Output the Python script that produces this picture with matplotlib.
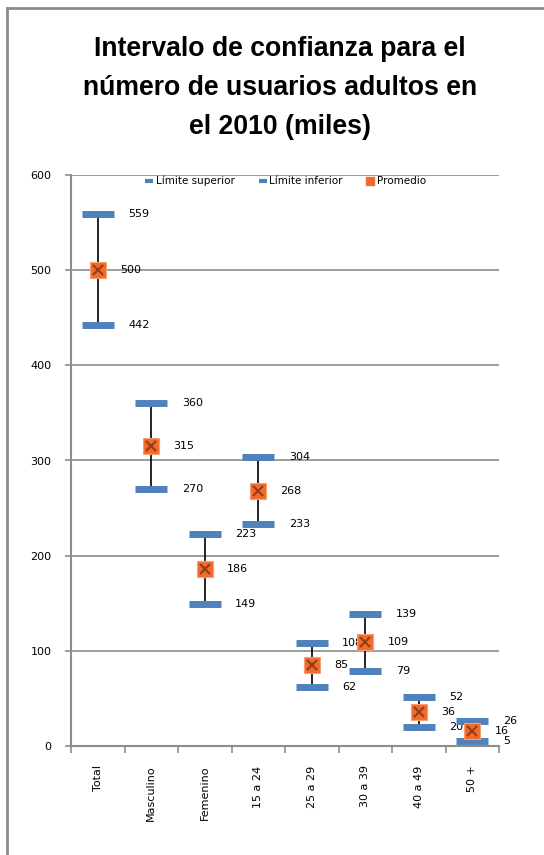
import numpy as np
import matplotlib.pyplot as plt
from matplotlib.lines import Line2D

categorias = ['Total', 'Masculino', 'Femenino', '15 a 24', '25 a 29', '30 a 39', '40 a 49', '50 +']
limite_superior = [559, 360, 223, 304, 108, 139, 52, 26]
limite_inferior = [442, 270, 149, 233, 62, 79, 20, 5]
promedio = [500, 315, 186, 268, 85, 109, 36, 16]

azul = '#4F81BD'
naranja = '#F26B2E'
gris = '#8C8C8C'

plt.rcParams['font.family'] = ['DejaVu Sans']

fig = plt.figure(figsize=(5.44, 8.55), dpi=100)
ax = fig.add_axes([71/544, 109/855, 428/544, 571/855])

x = np.arange(len(categorias))

# lineas entre limites
ax.vlines(x, limite_inferior, limite_superior, color='black', lw=1.2, zorder=3)
ax.plot(x, limite_superior, ls='none', marker='_', ms=23, mew=5, color=azul, zorder=4)
ax.plot(x, limite_inferior, ls='none', marker='_', ms=23, mew=5, color=azul, zorder=4)
ax.plot(x, promedio, ls='none', marker='s', ms=11, color=naranja, mec='#F7A070', mew=0.8, zorder=5)
ax.plot(x, promedio, ls='none', marker='x', ms=7, color='#7A2E10', mew=1.6, alpha=0.75, zorder=6)

for xi, s, i, p in zip(x, limite_superior, limite_inferior, promedio):
    ax.annotate(str(s), (xi, s), xytext=(22, 0), textcoords='offset points',
                ha='left', va='center', fontsize=8)
    ax.annotate(str(i), (xi, i), xytext=(22, 0), textcoords='offset points',
                ha='left', va='center', fontsize=8)
    ax.annotate(str(p), (xi, p), xytext=(16, 0), textcoords='offset points',
                ha='left', va='center', fontsize=8)

ax.set_xlim(-0.5, len(categorias) - 0.5)
ax.set_ylim(0, 600)
ax.set_yticks(np.arange(0, 601, 100))
ax.yaxis.grid(True, color=gris, lw=1.2)
ax.set_axisbelow(True)

ax.set_xticks(np.arange(-0.5, len(categorias), 1))
ax.set_xticklabels([])
ax.set_xticks(x, minor=True)
ax.set_xticklabels(categorias, minor=True, rotation=90, fontsize=8, va='top')
ax.tick_params(axis='x', which='minor', length=0, pad=14)
ax.tick_params(axis='x', which='major', length=5, width=1.2, color=gris)
ax.tick_params(axis='y', length=4, width=1.2, color=gris, labelsize=8, pad=10)

for lado in ['top', 'right']:
    ax.spines[lado].set_visible(False)
for lado in ['left', 'bottom']:
    ax.spines[lado].set_color(gris)
    ax.spines[lado].set_linewidth(1.5)

handles = [
    Line2D([], [], ls='none', marker='_', ms=6, mew=3, color=azul),
    Line2D([], [], ls='none', marker='_', ms=6, mew=3, color=azul),
    Line2D([], [], ls='none', marker='s', ms=6, color=naranja),
]
ax.legend(handles, ['Límite superior', 'Límite inferior', 'Promedio'], ncol=3,
          loc='upper center', bbox_to_anchor=(0.5, 1.015), frameon=False,
          fontsize=7.5, handletextpad=0.1, columnspacing=2.2, handlelength=1)

fig.text(0.515, 0.897, 'Intervalo de confianza para el\nnúmero de usuarios adultos en\nel 2010 (miles)',
         ha='center', va='center', fontsize=19.2, fontweight='bold', linespacing=1.66,
         family=['Liberation Sans', 'DejaVu Sans'])

# marco del grafico
fig.add_artist(Line2D([7/544, 7/544], [0, 1 - 8/855], color=gris, lw=2, transform=fig.transFigure))
fig.add_artist(Line2D([7/544, 1], [1 - 8/855, 1 - 8/855], color=gris, lw=2, transform=fig.transFigure))

fig.savefig('out.png', dpi=100)
